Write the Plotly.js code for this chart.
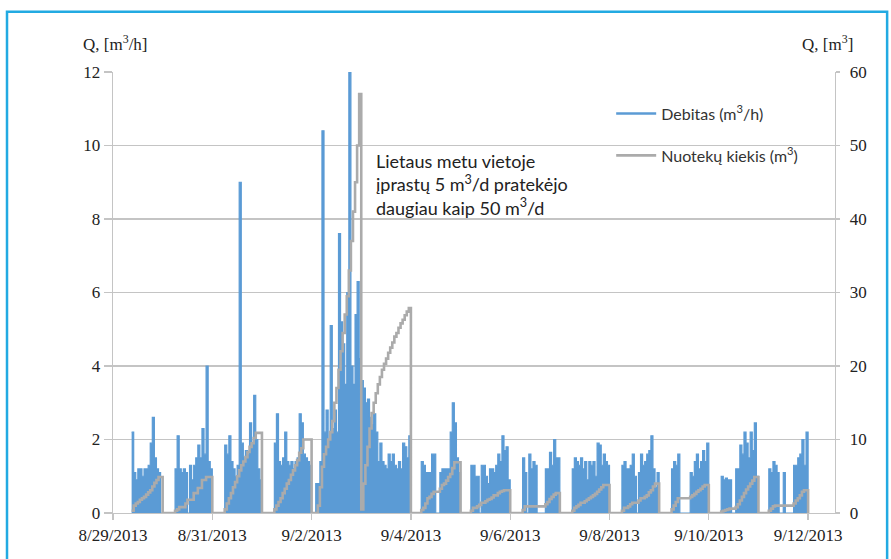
<!DOCTYPE html>
<html>
<head>
<meta charset="utf-8">
<script src="https://cdn.plot.ly/plotly-3.0.1.min.js"></script>
<style>
html,body{margin:0;padding:0;background:#fff;}
#chart{width:891px;height:559px;}
</style>
</head>
<body>
<div id="chart"></div>
<script>
// Days shown (each day has 24 hourly readings, hour 0..23)
const days = ['2013-08-29','2013-08-30','2013-08-31','2013-09-01','2013-09-02','2013-09-03','2013-09-04',
              '2013-09-05','2013-09-06','2013-09-07','2013-09-08','2013-09-09','2013-09-10','2013-09-11'];
const endTime = '2013-09-12 00:00';

// Debitas (m3/h), left axis, hourly
const debitas_0829 = [null,null,null,null,null,null,null,null,null,2.2,1.1,0.9,1.2,1.2,1.0,1.2,1.2,1.3,1.9,2.6,1.5,1.2,1.1,0];
const debitas_0830 = [0,0,0,0,0,0,1.2,2.1,1.2,1.1,1.2,1.1,0,1.3,0.9,1.3,1.5,1.85,1.5,2.3,1.6,4.0,1.4,1.2];
const debitas_0831 = [0,0,0,0,0,0,1.85,1.6,2.1,1.4,1.2,1.0,1.3,9.0,1.9,1.5,1.7,1.6,2.45,1.9,3.2,2.0,1.2,0.9];
const debitas_0901 = [0,0,0,0,0,0,1.9,2.7,1.4,1.3,1.5,2.2,1.4,1.3,1.4,1.2,1.4,1.5,2.7,2.45,1.6,1.5,1.4,1.3];
const debitas_0902 = [0,0,0.8,0.8,1.4,10.4,2.2,2.8,2.0,5.1,2.3,2.8,2.2,7.6,5.2,4.6,3.5,6.0,12.0,4.0,3.5,5.4,6.3,4.2];
const debitas_0903 = [3.6,3.4,3.0,3.1,2.6,2.4,2.7,2.2,1.4,1.9,1.4,1.3,1.2,1.6,1.4,1.6,1.3,1.2,1.4,1.2,1.9,1.8,1.5,2.1];
const debitas_0904 = [0,0,0,0,0,1.4,1.3,1.1,1.1,1.1,1.6,1.6,0,0,1.1,1.2,1.2,1.2,1.2,2.2,3.0,2.45,1.5,1.1];
const debitas_0905 = [0,0,0,0,0,1.3,1.3,1.0,1.0,0,1.3,1.3,1.0,0.8,1.2,1.2,1.1,1.3,1.6,1.4,2.1,1.7,1.8,0.9];
const debitas_0906 = [0,0,0,0,0,0,1.5,1.1,0,1.6,1.2,1.4,1.3,0,0,0,0,1.2,1.2,1.65,1.3,2.0,1.5,1.5];
const debitas_0907 = [0,0,0,0,0,0,1.2,1.5,1.4,1.3,1.5,1.2,1.4,0.9,1.4,1.3,1.4,1.0,1.9,1.85,1.3,1.6,1.4,1.3];
const debitas_0908 = [0,0,0,0,0,0,1.3,1.4,1.2,1.2,1.3,1.6,1.0,0,1.1,1.6,1.3,1.4,1.6,1.7,2.1,1.2,0.7,1.1];
const debitas_0909 = [0,0,0,0,0,0,1.2,1.4,1.3,1.6,0,0,0,0,0,1.1,1.0,1.4,1.6,1.2,1.4,1.7,1.4,1.9];
const debitas_0910 = [0,0,0,0,0,0,1.0,0.9,0.95,0.9,0.9,0,0,1.2,1.2,1.85,1.6,2.2,1.9,1.5,2.2,1.7,2.45,1.0];
const debitas_0911 = [0,0,0,0,0,1.2,1.1,1.4,1.3,1.1,0,0,1.1,0,0,0,0,1.3,1.3,1.5,1.6,2.0,1.3,2.2];
const debitas_end = 0;

// Nuotekų kiekis (m3), right axis, cumulative per day, hourly
const kiekis_0829 = [null,null,null,null,null,null,null,null,null,0.3,1.0,1.3,1.5,1.8,2.0,2.2,2.5,2.8,3.1,3.6,4.1,4.5,4.9,4.9];
const kiekis_0830 = [0,0,0,0,0,0,0.3,0.5,0.8,0.8,0.8,1.3,1.8,1.8,1.8,2.7,2.7,3.4,3.4,4.5,4.5,4.9,4.9,4.9];
const kiekis_0831 = [0,0,0,0,0,0,0.5,1.3,2.0,2.7,3.5,4.2,5.0,5.8,6.5,7.0,7.6,8.3,9.0,9.5,10.2,10.9,10.9,10.9];
const kiekis_0901 = [0,0,0,0,0,0,0.5,1.0,1.5,2.0,2.7,3.3,4.0,4.5,5.2,5.8,6.5,7.2,8.2,8.8,10.0,10.0,10.0,10.0];
const kiekis_0902 = [0,0,0,1,3.5,6.3,8,9,10,11,12.5,15,17,19.5,22,24.5,27,29.5,33,37,41,45,50,57];
const kiekis_0903 = [0.5,4,6.5,9,11.5,13.6,15,16.3,17.5,18.5,19.5,20.3,21,21.8,22.5,23.2,24,24.5,25.2,25.8,26.3,26.9,27.4,27.9];
const kiekis_0904 = [0,0,0,0,0,0.4,0.7,1.3,2.0,2.2,2.6,2.9,2.9,2.9,3.3,3.8,4.0,4.4,4.9,5.3,6.1,6.9,6.9,6.9];
const kiekis_0905 = [0,0,0,0,0,0.3,0.7,0.7,0.9,1.1,1.4,1.4,1.6,1.8,1.9,2.1,2.4,2.4,2.7,2.9,3.0,3.1,3.1,3.1];
const kiekis_0906 = [0,0,0,0,0,0,0.4,0.9,0.9,0.9,0.9,0.9,0.9,0.9,0.9,0.9,0.9,1.2,1.5,1.9,2.2,2.5,2.7,2.7];
const kiekis_0907 = [0,0,0,0,0,0,0.3,0.7,0.9,1.1,1.4,1.4,1.6,1.8,2.0,2.2,2.4,2.6,2.9,3.2,3.5,3.8,3.8,3.8];
const kiekis_0908 = [0,0,0,0,0,0,0.3,0.7,0.7,0.9,1.2,1.4,1.4,1.4,1.7,2.0,2.0,2.2,2.4,2.8,3.1,3.6,4.0,4.0];
const kiekis_0909 = [0,0,0,0,0,0,0.5,1.0,1.5,2.0,2.0,2.0,2.0,2.0,2.0,2.2,2.4,2.6,2.9,3.1,3.3,3.6,3.8,3.8];
const kiekis_0910 = [0,0,0,0,0,0,0.2,0.3,0.4,0.5,0.6,0.6,0.6,0.8,1.2,1.7,2.2,2.7,3.2,3.6,4.0,4.4,4.9,4.9];
const kiekis_0911 = [0,0,0,0,0,0.3,0.6,0.9,1.0,1.0,1.0,1.0,1.0,1.0,1.0,1.0,1.0,1.3,1.7,2.0,2.4,2.9,3.1,3.1];
const kiekis_end = 0;

// Tick labels
const xTickVals = ['2013-08-29','2013-08-31','2013-09-02','2013-09-04','2013-09-06','2013-09-08','2013-09-10','2013-09-12'];
const xTickText = ['8/29/2013','8/31/2013','9/2/2013','9/4/2013','9/6/2013','9/8/2013','9/10/2013','9/12/2013'];
const yLeftTicks = [0,2,4,6,8,10,12];
const yRightTicks = [0,10,20,30,40,50,60];

const debitasDays = [debitas_0829,debitas_0830,debitas_0831,debitas_0901,debitas_0902,debitas_0903,debitas_0904,
                     debitas_0905,debitas_0906,debitas_0907,debitas_0908,debitas_0909,debitas_0910,debitas_0911];
const kiekisDays = [kiekis_0829,kiekis_0830,kiekis_0831,kiekis_0901,kiekis_0902,kiekis_0903,kiekis_0904,
                    kiekis_0905,kiekis_0906,kiekis_0907,kiekis_0908,kiekis_0909,kiekis_0910,kiekis_0911];

const xs = [], yDeb = [], yKie = [];
days.forEach((d, i) => {
  for (let h = 0; h < 24; h++) {
    xs.push(d + ' ' + String(h).padStart(2,'0') + ':00');
    yDeb.push(debitasDays[i][h]);
    yKie.push(kiekisDays[i][h]);
  }
});
xs.push(endTime); yDeb.push(debitas_end); yKie.push(kiekis_end);

const blue = '#5b9bd5';
const gray = '#ababab';
const gridCol = '#c4c4c4';
const serif = 'Liberation Serif, Times New Roman, serif';
const sans = 'Lato, Noto Sans, sans-serif';
const debName = 'Debitas (m<sup>3</sup>/h)';
const kieName = 'Nuotekų kiekis (m<sup>3</sup>)';

const traces = [
  {
    x: xs, y: yDeb, type: 'scatter', mode: 'lines',
    name: debName, showlegend: false,
    line: {color: blue, width: 1.2, shape: 'hv'},
    fill: 'tozeroy', fillcolor: blue,
    legendgroup: 'a', connectgaps: false, yaxis: 'y'
  },
  {
    // legend entry only (line symbol)
    x: [null], y: [null], type: 'scatter', mode: 'lines',
    name: debName, line: {color: blue, width: 2.5},
    legendgroup: 'a', yaxis: 'y'
  },
  {
    x: xs, y: yKie, type: 'scatter', mode: 'lines',
    name: kieName,
    line: {color: gray, width: 2.6, shape: 'hv'},
    legendgroup: 'b', connectgaps: false, yaxis: 'y2'
  }
];

const layout = {
  width: 891, height: 559,
  margin: {l: 113, r: 56, t: 72, b: 46, pad: 0},
  paper_bgcolor: '#fff', plot_bgcolor: '#fff',
  showlegend: true,
  legend: {
    x: 0.690, y: 0.944, xanchor: 'left', yanchor: 'top',
    bgcolor: 'rgba(0,0,0,0)', borderwidth: 0,
    font: {family: sans, size: 16, color: '#333'},
    tracegroupgap: 18, itemwidth: 40
  },
  xaxis: {
    type: 'date',
    range: ['2013-08-29 00:00', '2013-09-12 13:00'],
    tickmode: 'array', tickvals: xTickVals, ticktext: xTickText,
    ticks: 'outside', ticklen: 6, tickcolor: gridCol, tickwidth: 1.3,
    showgrid: false, zeroline: false,
    showline: true, linecolor: gridCol, linewidth: 1.3,
    tickfont: {family: serif, size: 17, color: '#222'}
  },
  yaxis: {
    range: [0, 12], tickmode: 'array', tickvals: yLeftTicks,
    showgrid: true, gridcolor: gridCol, gridwidth: 1.3,
    zeroline: false, showline: true, linecolor: gridCol, linewidth: 1.3,
    ticks: 'outside', ticklen: 8, tickcolor: gridCol, tickwidth: 1.3,
    tickfont: {family: serif, size: 17, color: '#222'}
  },
  yaxis2: {
    range: [0, 60], tickmode: 'array', tickvals: yRightTicks,
    overlaying: 'y', side: 'right',
    showgrid: false, zeroline: false,
    showline: true, linecolor: gridCol, linewidth: 1.3,
    ticks: 'outside', ticklen: 4, tickcolor: gridCol, tickwidth: 1.3,
    ticklabelstandoff: 6,
    tickfont: {family: serif, size: 17, color: '#222'}
  },
  annotations: [
    {xref: 'paper', yref: 'paper', x: -0.045, y: 1.066, xanchor: 'left', yanchor: 'middle',
     text: 'Q, [m<sup>3</sup>/h]', showarrow: false, font: {family: serif, size: 17, color: '#222'}},
    {xref: 'paper', yref: 'paper', x: 0.951, y: 1.066, xanchor: 'left', yanchor: 'middle',
     text: 'Q, [m<sup>3</sup>]', showarrow: false, font: {family: serif, size: 17, color: '#222'}},
    {xref: 'paper', yref: 'paper', x: 0.362, y: 0.828, xanchor: 'left', yanchor: 'top', align: 'left',
     text: 'Lietaus metu vietoje<br>įprastų 5 m<sup>3</sup>/d pratekėjo<br>daugiau kaip 50 m<sup>3</sup>/d',
     showarrow: false, font: {family: sans, size: 18, color: '#222'}}
  ],
  shapes: [
    {type: 'rect', xref: 'paper', yref: 'paper', x0: -0.1468, x1: 1.0722, y0: -0.13, y1: 1.1365,
     line: {color: '#22aae2', width: 2.5}, fillcolor: 'rgba(0,0,0,0)', layer: 'below'}
  ]
};

Plotly.newPlot('chart', traces, layout, {displayModeBar: false, staticPlot: true});
</script>
</body>
</html>
